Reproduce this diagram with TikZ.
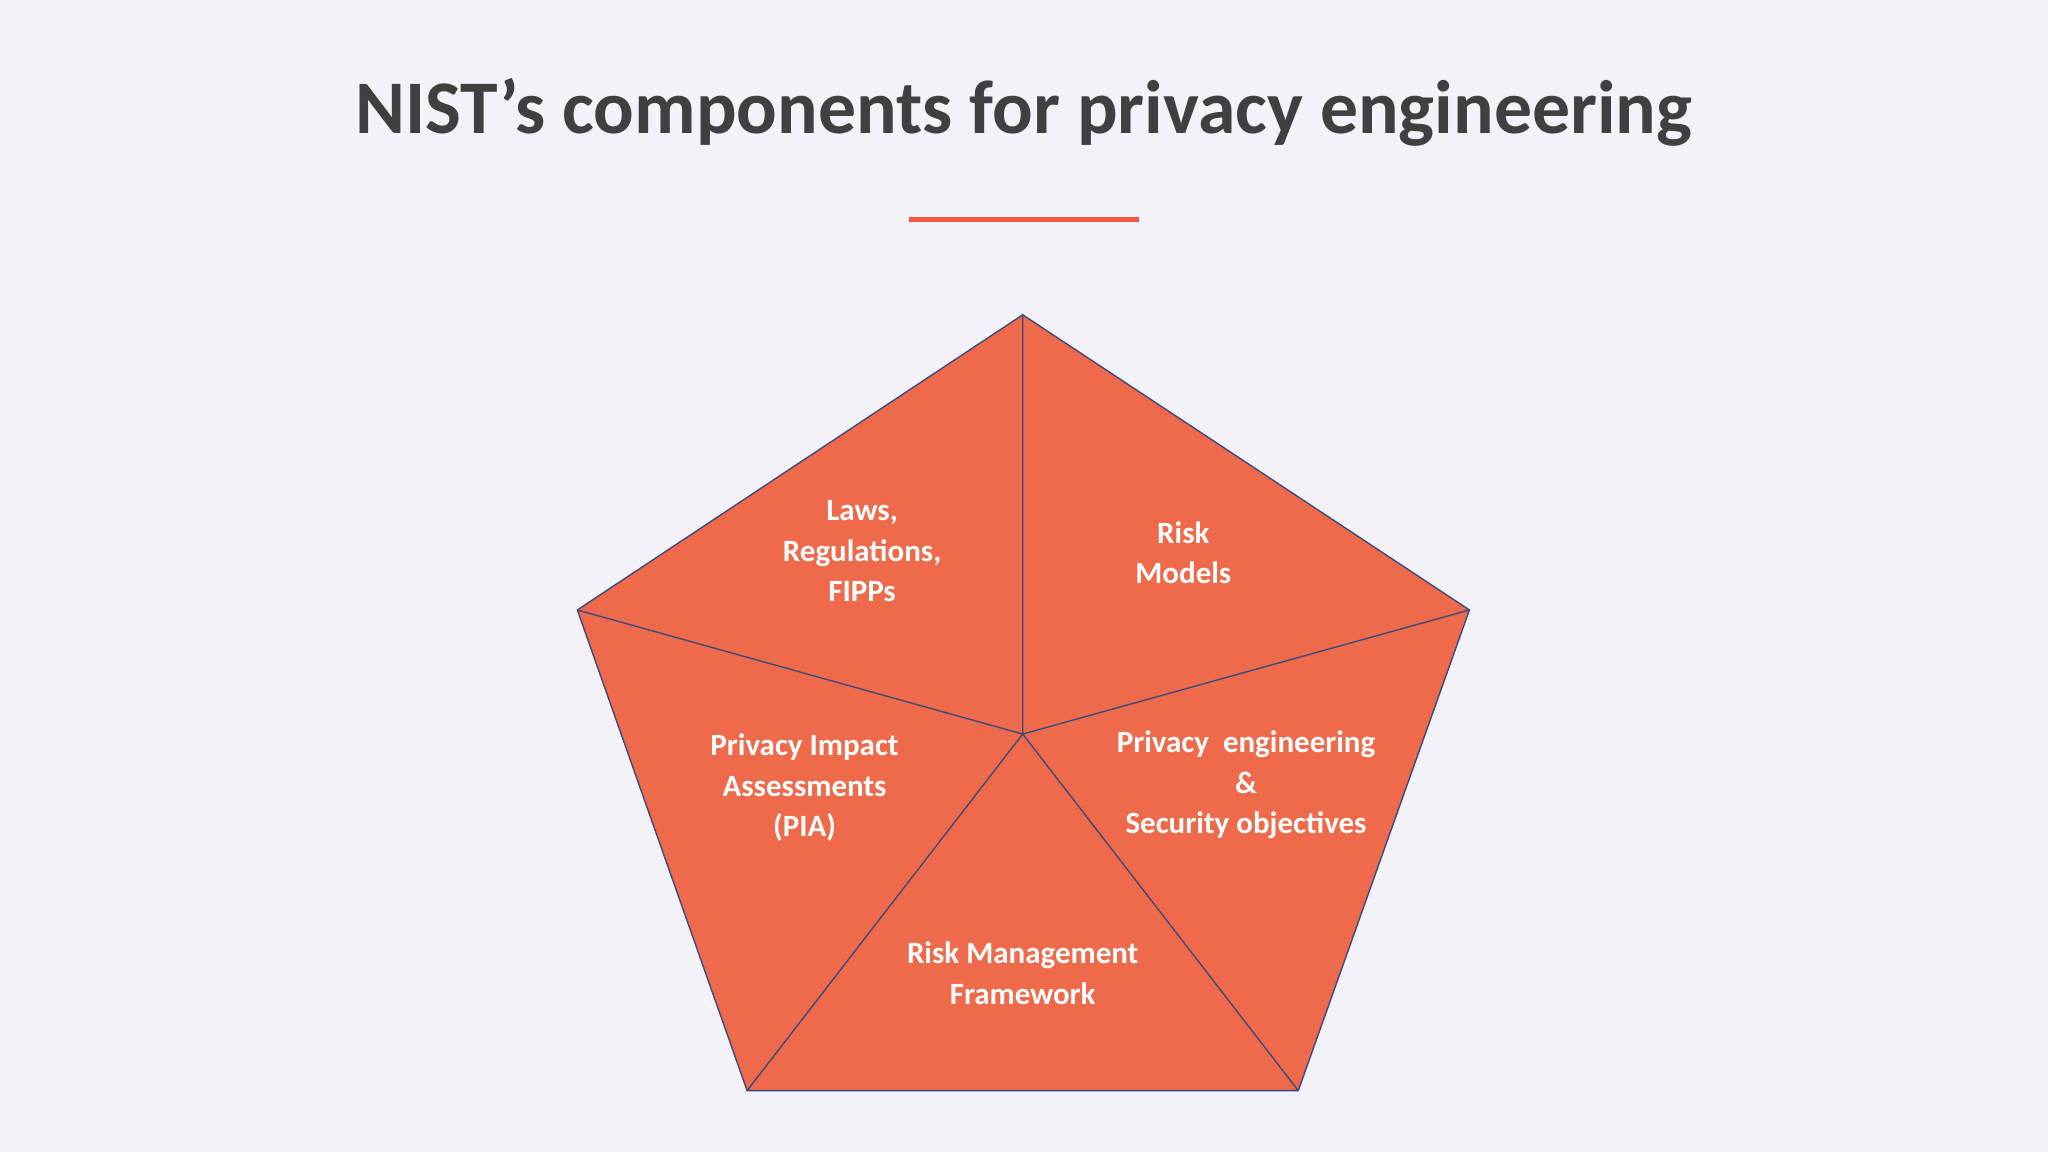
\documentclass[tikz,border=0pt]{standalone}
\usepackage{fontspec}
\setmainfont{Carlito}
\definecolor{bg}{HTML}{F3F2F9}
\definecolor{pent}{HTML}{EE6A4A}
\definecolor{edge}{HTML}{3A4A80}
\definecolor{ttl}{HTML}{404040}
\definecolor{acc}{HTML}{EE5A3C}
\begin{document}
\begin{tikzpicture}[x=0.02cm,y=-0.02cm,
  lbl/.style={text=white,font=\bfseries\fontsize{13.5}{17.6}\selectfont,align=center},
  seg/.style={draw=edge,line width=0.6pt,fill=pent,line join=round}]
\fill[bg] (0,0) rectangle (1568,882);
\useasboundingbox (0,0) rectangle (1568,882);
\node[text=ttl,font=\bfseries\fontsize{33}{40}\selectfont] (title) at (784,86) {NIST’s components for privacy engineering};
\coordinate (l1) at (696,168); \coordinate (l2) at (872,168);
\draw[acc,line width=2.2pt] (l1) -- (l2);
\coordinate (T) at (783,241);
\coordinate (L) at (442,467);
\coordinate (R) at (1125,467);
\coordinate (BL) at (572,835);
\coordinate (BR) at (994,835);
\coordinate (C) at (783,562);
\draw[seg] (T) -- (R) -- (BR) -- (BL) -- (L) -- cycle;
\draw[edge,line width=0.6pt] (T) -- (C) (L) -- (C) (R) -- (C) (BL) -- (C) (BR) -- (C);
\node[lbl] (a) at (660,422) {Laws,\\Regulations,\\FIPPs};
\node[lbl] (b) at (906,423) {Risk\\Models};
\node[lbl] (c) at (616,603) {Privacy Impact\\Assessments\\(PIA)};
\node[lbl] (d) at (954,601) {Privacy\ \ engineering\\\&\\Security objectives};
\node[lbl] (e) at (783,745) {Risk Management\\Framework};
\end{tikzpicture}
\end{document}
